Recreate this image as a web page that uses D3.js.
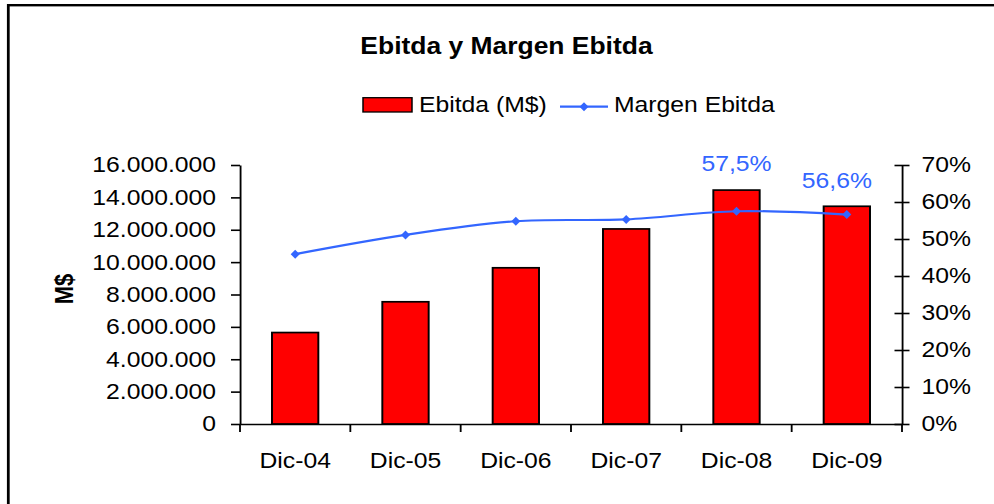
<!DOCTYPE html>
<html>
<head>
<meta charset="utf-8">
<script src="https://cdn.jsdelivr.net/npm/d3@7"></script>
<style>
body { margin: 0; background: #fff; }
text { font-family: "Liberation Sans", Arial, sans-serif; }
</style>
</head>
<body>
<div class="chart"></div>
<script>
// chart values
var categories = ["Dic-04", "Dic-05", "Dic-06", "Dic-07", "Dic-08", "Dic-09"];
var ebitda = [5650000, 7550000, 9650000, 12050000, 14450000, 13450000];
var margen = [0.459, 0.511, 0.548, 0.553, 0.575, 0.566];
var leftTicks = [0, 2000000, 4000000, 6000000, 8000000, 10000000, 12000000, 14000000, 16000000];
var rightTicks = [0, 0.1, 0.2, 0.3, 0.4, 0.5, 0.6, 0.7];
var labelled = ["Dic-08", "Dic-09"];

// the original chart is stretched sideways, so draw in a narrower viewBox
var svgWidth = 994;
var svgHeight = 504;
var stretch = 1.15;
var vbWidth = svgWidth / stretch;
function sx(px) { return px / stretch; }

// plot box in screen pixels
var plot = { left: 240, right: 902, top: 165, bottom: 424 };
var fontSize = 21.5;
var blue = "#3366FF";

// spanish number format
var es = d3.formatLocale({ decimal: ",", thousands: ".", grouping: [3], currency: ["$", ""] });
var fmtNum = es.format(",.0f");
var fmtPct = es.format(".0%");
var fmtLabel = es.format(".1%");

var svg = d3.select(".chart")
    .append("svg")
    .attr("width", svgWidth)
    .attr("height", svgHeight)
    .attr("viewBox", `0 0 ${vbWidth} ${svgHeight}`)
    .attr("preserveAspectRatio", "none");

// outer frame (runs off the right and bottom edge)
svg.append("rect")
    .attr("x", sx(8.3))
    .attr("y", 5.2)
    .attr("width", vbWidth)
    .attr("height", svgHeight)
    .attr("fill", "none")
    .attr("stroke", "black")
    .attr("stroke-width", 2.4);

// scales
var xScale = d3.scaleBand()
    .domain(categories)
    .range([sx(plot.left), sx(plot.right)])
    .paddingInner(0.58)
    .paddingOuter(0.29);

var yLeft = d3.scaleLinear()
    .domain([0, 16000000])
    .range([plot.bottom, plot.top]);

var yRight = d3.scaleLinear()
    .domain([0, 0.7])
    .range([plot.bottom, plot.top]);

// bars
svg.append("g").selectAll("rect")
    .data(ebitda)
    .enter()
    .append("rect")
    .attr("x", (d, i) => xScale(categories[i]))
    .attr("width", xScale.bandwidth())
    .attr("y", d => yLeft(d))
    .attr("height", d => yLeft(0) - yLeft(d))
    .attr("fill", "#FF0000")
    .attr("stroke", "black")
    .attr("stroke-width", 1.7);

// left axis
var leftAxis = d3.axisLeft(yLeft)
    .tickValues(leftTicks)
    .tickFormat(fmtNum)
    .tickSize(sx(9))
    .tickSizeOuter(0)
    .tickPadding(sx(15));

var gLeft = svg.append("g")
    .attr("transform", `translate(${sx(plot.left)}, 0)`)
    .call(leftAxis);

// right axis, ticks cross the line
var rightAxis = d3.axisRight(yRight)
    .tickValues(rightTicks)
    .tickFormat(fmtPct)
    .tickSize(sx(7.5))
    .tickSizeOuter(0)
    .tickPadding(sx(12));

var gRight = svg.append("g")
    .attr("transform", `translate(${sx(plot.right)}, 0)`)
    .call(rightAxis);
gRight.selectAll(".tick line").attr("x1", -sx(7.5));

// bottom axis: labels at band centres, ticks at band edges
var botAxis = d3.axisBottom(xScale)
    .tickSize(0)
    .tickSizeOuter(0)
    .tickPadding(29);

var gBot = svg.append("g")
    .attr("transform", `translate(0, ${plot.bottom})`)
    .call(botAxis);

var edges = categories.map(c => xScale(c) - xScale.step() * xScale.paddingInner() / 2);
edges.push(sx(plot.right));
gBot.selectAll(".edge")
    .data(edges)
    .enter()
    .append("line")
    .attr("x1", d => d)
    .attr("x2", d => d)
    .attr("y1", 0)
    .attr("y2", 8)
    .attr("stroke", "black");

// axis styling
[gLeft, gRight, gBot].forEach(g => {
    g.attr("font-family", null).attr("font-size", null);
    g.selectAll("path, line").attr("stroke", "black").attr("stroke-width", 1.6);
    g.selectAll("text").attr("fill", "black").style("font-size", fontSize + "px");
});

// margin line
var cx = c => xScale(c) + xScale.bandwidth() / 2;
var line = d3.line()
    .x((d, i) => cx(categories[i]))
    .y(d => yRight(d))
    .curve(d3.curveCatmullRom);

svg.append("path")
    .datum(margen)
    .attr("d", line)
    .attr("fill", "none")
    .attr("stroke", blue)
    .attr("stroke-width", 2.2);

function diamond(x, y, r) {
    return `M${x},${y - r}L${x + sx(r)},${y}L${x},${y + r}L${x - sx(r)},${y}Z`;
}

svg.append("g").selectAll("path")
    .data(margen)
    .enter()
    .append("path")
    .attr("d", (d, i) => diamond(cx(categories[i]), yRight(d), 4.5))
    .attr("fill", blue);

// data labels on the last two points
var labelShift = { "Dic-08": [0, -40], "Dic-09": [-10, -27] };
svg.append("g").selectAll("text")
    .data(labelled)
    .enter()
    .append("text")
    .attr("x", d => cx(d) + sx(labelShift[d][0]))
    .attr("y", d => yRight(margen[categories.indexOf(d)]) + labelShift[d][1])
    .attr("text-anchor", "middle")
    .attr("fill", blue)
    .style("font-size", fontSize + "px")
    .text(d => fmtLabel(margen[categories.indexOf(d)]));

// title
svg.append("text")
    .attr("x", sx(506.5))
    .attr("y", 54)
    .attr("text-anchor", "middle")
    .attr("font-weight", "bold")
    .style("font-size", "23px")
    .text("Ebitda y Margen Ebitda");

// y axis title
svg.append("text")
    .attr("transform", `translate(${sx(73)}, 289) rotate(-90)`)
    .attr("text-anchor", "middle")
    .attr("font-weight", "bold")
    .style("font-size", "22px")
    .text("M$");

// legend
var legend = svg.append("g");
legend.append("rect")
    .attr("x", sx(363))
    .attr("y", 97.7)
    .attr("width", sx(49))
    .attr("height", 14.3)
    .attr("fill", "#FF0000")
    .attr("stroke", "black")
    .attr("stroke-width", 1.3);
legend.append("text")
    .attr("x", sx(419))
    .attr("y", 112)
    .style("font-size", fontSize + "px")
    .text("Ebitda (M$)");
legend.append("line")
    .attr("x1", sx(560))
    .attr("x2", sx(608))
    .attr("y1", 106.7)
    .attr("y2", 106.7)
    .attr("stroke", blue)
    .attr("stroke-width", 2.2);
legend.append("path")
    .attr("d", diamond(sx(584), 106.7, 4.5))
    .attr("fill", blue);
legend.append("text")
    .attr("x", sx(614))
    .attr("y", 112)
    .style("font-size", fontSize + "px")
    .text("Margen Ebitda");
</script>
</body>
</html>
